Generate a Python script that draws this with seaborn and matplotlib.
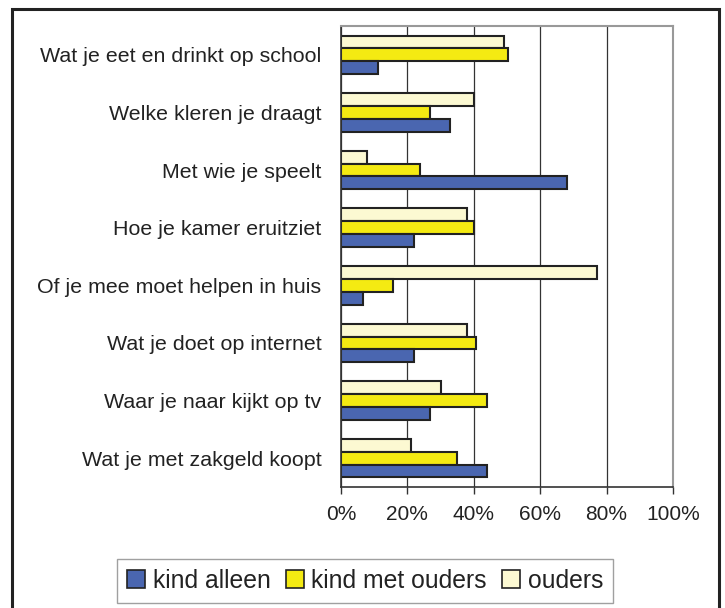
import numpy as np
import pandas as pd
import seaborn as sns
import matplotlib.pyplot as plt
from matplotlib.patches import Patch, Rectangle

categories = ['Wat je eet en drinkt op school', 'Welke kleren je draagt',
              'Met wie je speelt', 'Hoe je kamer eruitziet',
              'Of je mee moet helpen in huis', 'Wat je doet op internet',
              'Waar je naar kijkt op tv', 'Wat je met zakgeld koopt']
kind_alleen = [11.0, 32.7, 68.2, 22.1, 6.7, 22.1, 26.9, 43.9]
kind_met_ouders = [50.2, 26.8, 23.7, 40.1, 15.8, 40.7, 43.9, 34.8]
ouders = [49.1, 40.1, 7.8, 38.0, 77.2, 38.0, 30.0, 21.1]
series_names = ['kind alleen', 'kind met ouders', 'ouders']
colors = ['#4a66b0', '#f4ea12', '#fcf9d2']
x_ticks = [0, 20, 40, 60, 80, 100]

df = pd.DataFrame({
    'vraag': categories * 3,
    'wie': [s for s in series_names for _ in categories],
    'pct': kind_alleen + kind_met_ouders + ouders,
})

sns.set_style('white')
plt.rcParams['font.family'] = ['Liberation Sans', 'DejaVu Sans']
plt.rcParams['text.color'] = '#222222'

fig = plt.figure(figsize=(7.25, 6.08), dpi=100)
ax = fig.add_axes([341 / 725, 1 - 487 / 608, 332 / 725, 461 / 608])

sns.barplot(data=df, y='vraag', x='pct', hue='wie', order=categories,
            hue_order=series_names[::-1], palette=dict(zip(series_names, colors)),
            width=0.67, edgecolor='#222222', linewidth=1.5, saturation=1,
            ax=ax, legend=False)

ax.set_xlim(0, 100)
ax.set_ylim(len(categories) - 0.5, -0.5)
ax.set_xticks(x_ticks)
ax.set_xticklabels([f'{v}%' for v in x_ticks])
ax.set_xlabel('')
ax.set_ylabel('')
ax.xaxis.grid(True, color='#333333', lw=0.9)
ax.yaxis.grid(False)
ax.set_axisbelow(True)

for side in ['top', 'right']:
    ax.spines[side].set_color('#999999')
    ax.spines[side].set_linewidth(1.5)
for side in ['left', 'bottom']:
    ax.spines[side].set_color('#333333')
    ax.spines[side].set_linewidth(1.2)

ax.set_yticks(np.arange(-0.5, len(categories), 1), minor=True)
ax.tick_params(axis='y', which='major', length=0, pad=14, labelsize=15.4, labelcolor='#222222')
ax.tick_params(axis='y', which='minor', length=5, width=1, direction='out', color='#333333')
ax.tick_params(axis='x', length=5, width=1, direction='out', color='#333333',
               pad=8, labelsize=15, labelcolor='#222222', bottom=True)

handles = [Patch(facecolor=c, edgecolor='#222222', lw=1.2) for c in colors]
fig.legend(handles, series_names, loc='center', bbox_to_anchor=(365 / 725, 1 - 581 / 608),
           ncol=3, frameon=True, fancybox=False, edgecolor='#888888', fontsize=17.8,
           handlelength=0.75, handleheight=0.75, handletextpad=0.3,
           columnspacing=0.6, borderpad=0.4)

# outer frame, open at the bottom like the cropped original
fig.patches.append(Rectangle((12 / 725, -0.1), 707 / 725, 1.1 - 9 / 608,
                             transform=fig.transFigure, fill=False, lw=2.2,
                             ec='#222222'))

fig.savefig('out.png', dpi=100)
